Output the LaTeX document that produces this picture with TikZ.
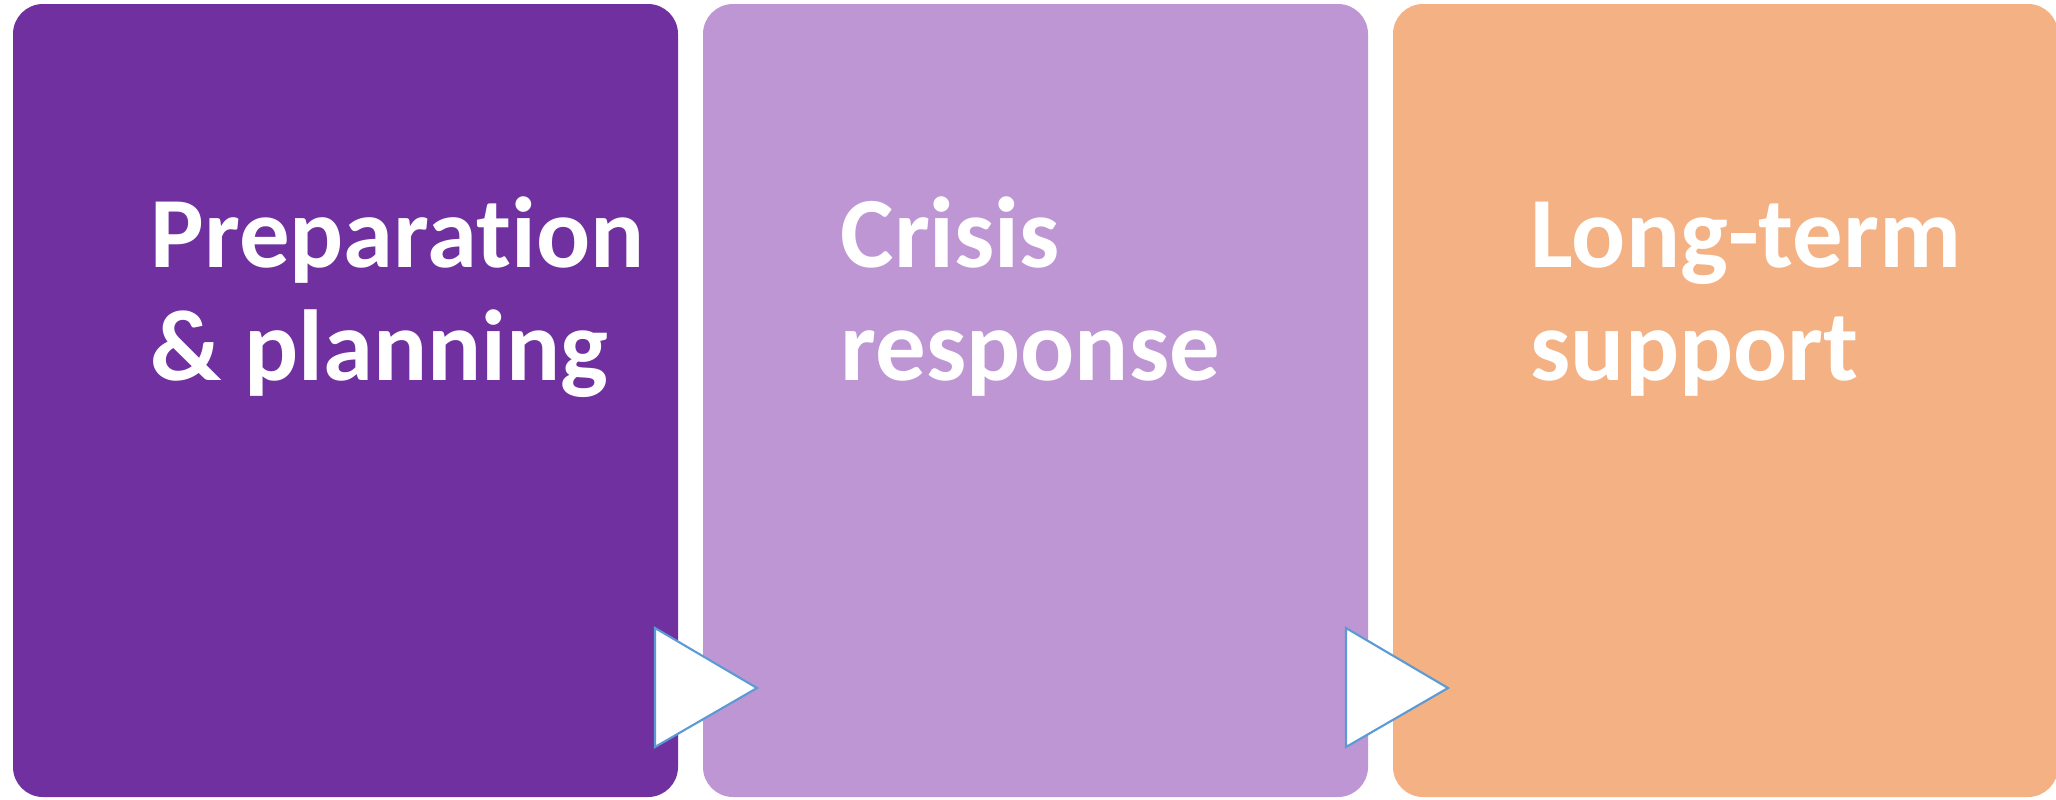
\documentclass[tikz,border=0pt]{standalone}
\usepackage{fontspec}
\setmainfont{Carlito}[Ligatures={NoCommon}]
\usetikzlibrary{positioning}
\definecolor{stagedark}{HTML}{7030A0}
\definecolor{stagelight}{HTML}{BF96D4}
\definecolor{stageorange}{HTML}{F4B183}
\definecolor{chevronline}{HTML}{5B9BD5}
\tikzset{stage/.style={rectangle, rounded corners=0.3cm, fill=#1, draw=none,
    minimum width=6.65cm, minimum height=7.93cm, inner sep=0pt, outer sep=0pt},
%white text, two lines
stagetext/.style={anchor=base west, align=left, text=white,
    font=\fontsize{28.7pt}{32pt}\selectfont\bfseries, inner sep=0pt},
chevron/.style={draw=chevronline, fill=white, line width=0.6pt, line join=miter}}

\begin{document}
\begin{tikzpicture}

    \useasboundingbox (0,0) rectangle (20.56,-7.99);

    \node[stage=stagedark, anchor=north west] (prep) at (0.13,-0.04) {};
    \node[stage=stagelight, anchor=north west] (crisis) at (7.03,-0.04) {};
    \node[stage=stageorange, anchor=north west] (longterm) at (13.93,-0.04) {};

    % base is the second line here
    \foreach \b/\t in {prep/{Preparation\\\& planning}, crisis/{Crisis\\response}, longterm/{Long-term\\support}}
    \node[stagetext] (\b text) at ([xshift=1.37cm, yshift=-3.76cm]\b.north west) {\t};

    % chevrons between the stages
    \coordinate (c1) at (6.55,-6.28);
    \coordinate (c2) at (13.46,-6.28);

    \foreach \i in {c1,c2}
    \draw[chevron] (\i) -- ++(1.02,-0.6) -- ++(-1.02,-0.59) -- cycle;

  \end{tikzpicture}
\end{document}
